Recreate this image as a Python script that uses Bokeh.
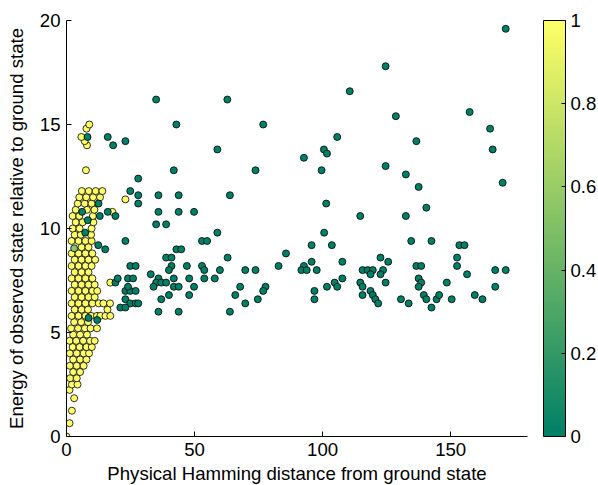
from bokeh.plotting import figure
from bokeh.models import ColumnDataSource, LinearColorMapper, ColorBar, FixedTicker
from bokeh.embed import file_html
from bokeh.resources import INLINE

FONT = "Liberation Sans"

# ---- data ----
x_ticks = [0, 50, 100, 150]
y_ticks = [0, 5, 10, 15, 20]
cb_ticks = [0, 0.2, 0.4, 0.6, 0.8, 1]

# yellow (colour value 1) points: rows of (energy, [distances])
yellow_rows = [
    (0.0, [0.0]), (0.64, [1.2]), (1.24, [2.1]), (1.84, [3.0]), (2.24, [1.2]),
    (2.5, [2.1, 4.3]),
    (2.8, [1.4, 4.0]),
    (3.1, [2.6, 5.3]),
    (3.4, [1.3, 4.0, 6.7]),
    (3.7, [2.6, 5.3, 7.8]),
    (4.0, [1.3, 4.0, 6.7, 8.8]),
    (4.3, [2.4, 5.1, 7.8, 9.9]),
    (4.6, [1.2, 3.8, 6.5, 9.2, 11.0]),
    (4.9, [2.6, 5.3, 8.0]),
    (5.2, [1.8, 4.5, 7.2, 9.4, 11.9]),
    (5.5, [3.0, 5.7, 8.4]),
    (5.8, [2.0, 4.7, 7.4, 9.6, 11.9, 13.2, 15.2, 17.1]),
    (6.1, [3.2, 5.9, 8.4, 16.0]),
    (6.4, [2.0, 4.7, 7.4, 10.1, 12.6, 14.4, 17.0]),
    (6.7, [3.2, 5.9, 8.6, 11.0]),
    (7.0, [2.0, 4.7, 7.4, 10.1, 12.0]),
    (7.3, [3.2, 5.9, 8.6, 11.0]),
    (7.4, [17.1]),
    (7.6, [2.0, 4.7, 7.4, 10.1]),
    (7.9, [3.2, 5.9, 8.6]),
    (8.2, [2.0, 4.7, 7.4, 9.8]),
    (8.5, [3.2, 5.9, 8.6, 11.2]),
    (8.8, [2.0, 4.7, 7.4, 10.1]),
    (9.1, [5.9, 8.6]),
    (9.4, [2.0, 4.7, 7.4, 9.8]),
    (9.7, [3.2, 5.6, 9.6]),
    (10.0, [2.4, 5.1, 9.8]),
    (10.3, [3.6, 6.3, 10.5]),
    (10.6, [2.4, 5.0, 10.3]),
    (10.8, [17.9]),
    (10.9, [3.6, 8.0, 10.9]),
    (11.2, [4.4, 7.1, 9.8]),
    (11.4, [23.0]),
    (11.5, [5.0, 7.7, 10.4, 13.1]),
    (11.8, [6.0, 8.7, 11.4, 14.0]),
    (12.8, [7.6]),
    (14.0, [8.0]), (14.2, [7.1]), (14.4, [5.8]), (14.8, [7.8]), (15.0, [8.9]),
]

# intermediate-colour point
mid_x = [3.0]
mid_y = [9.05]
mid_c = [0.55]

# green (colour value 0) points
green_x = [
    35.0, 62.8, 42.9, 76.8, 23.0, 18.2, 16.1, 8.2, 58.9, 92.7, 100.5, 101.7,
    41.9, 73.8, 99.6, 28.0, 24.9, 28.0, 28.0, 35.9, 43.8, 63.8, 19.1, 16.1,
    13.0, 12.5, 6.1, 8.3, 7.3, 35.9, 43.8, 49.8, 35.0, 38.9, 101.4, 23.0,
    12.4, 15.1, 58.9, 100.6, 42.9, 44.8, 52.9, 54.9, 95.7, 38.9, 41.0, 62.9,
    85.7, 24.9, 27.0, 41.0, 47.0, 52.9, 53.8, 40.0, 59.9, 69.8, 73.8, 82.8,
    92.7, 95.7, 91.7, 93.8, 97.7, 32.9, 19.1, 20.0, 24.0, 26.0, 35.9, 35.0,
    37.0, 38.9, 34.0, 41.9, 47.9, 53.8, 57.9, 41.9, 43.8, 49.8, 40.0, 47.9,
    67.8, 65.9, 77.7, 76.8, 74.7, 69.8, 96.8, 96.8, 101.7, 23.0, 24.9, 27.0,
    24.0, 23.0, 24.9, 27.0, 28.0, 21.0, 23.0, 35.9, 43.8, 63.8, 37.0, 8.6,
    12.0,
    171.5, 124.6, 110.6, 128.6, 157.4, 165.4, 105.7, 136.6, 166.4, 124.6,
    132.5, 137.5, 170.3, 114.7, 132.5, 140.5, 103.6, 134.6, 142.5, 153.4,
    155.4, 107.7, 122.6, 125.6, 152.5, 152.5, 115.6, 117.6, 119.6, 123.6,
    118.7, 122.6, 136.6, 138.5, 167.4, 171.5, 156.4, 137.5, 138.5, 107.7,
    104.7, 105.7, 114.7, 115.6, 115.6, 124.6, 137.5, 148.5, 167.4, 118.7,
    119.6, 120.6, 121.7, 130.6, 133.6, 139.5, 140.5, 142.5, 144.5, 145.5,
    150.4, 159.4, 162.4,
]
green_y = [
    16.2, 16.2, 15.0, 15.0, 14.2, 14.0, 14.4, 14.4, 13.8, 13.4, 13.8, 13.6,
    12.8, 12.8, 12.8, 12.4, 11.8, 11.6, 11.2, 11.6, 11.6, 11.6, 10.6, 10.8,
    10.6, 11.2, 10.8, 10.4, 9.8, 10.8, 10.8, 10.8, 10.2, 10.2, 11.2, 9.4,
    9.2, 9.0, 9.8, 9.8, 9.0, 9.0, 9.4, 9.4, 9.2, 8.6, 8.6, 8.6,
    8.8, 8.2, 8.2, 8.2, 8.2, 8.2, 8.0, 8.0, 8.0, 8.0, 8.0, 8.2,
    8.2, 8.4, 8.0, 8.0, 8.0, 7.8, 7.4, 7.6, 7.6, 7.6, 7.6, 7.4,
    7.4, 7.4, 7.2, 7.6, 7.6, 7.6, 7.6, 7.2, 7.2, 7.2, 6.8, 6.8,
    7.2, 6.8, 7.2, 7.0, 6.6, 6.4, 7.0, 6.6, 7.2, 7.0, 7.0, 7.0,
    7.2, 6.6, 6.4, 6.4, 6.4, 6.2, 6.2, 6.0, 6.0, 6.0, 6.6, 5.7,
    5.6,
    19.6, 17.8, 16.6, 15.4, 15.6, 14.8, 14.4, 14.2, 13.8, 13.0,
    12.6, 12.0, 12.2, 10.6, 10.6, 11.0, 9.2, 9.4, 9.4, 9.2,
    9.2, 8.4, 8.6, 8.4, 8.6, 8.2, 8.0, 8.0, 8.0, 8.0,
    7.8, 7.8, 8.2, 8.2, 8.0, 8.0, 7.8, 7.6, 7.4, 7.6,
    7.4, 7.2, 7.4, 7.2, 6.8, 7.4, 7.2, 7.4, 7.2, 7.0,
    6.8, 6.6, 6.4, 6.6, 6.4, 6.8, 6.6, 6.2, 6.6, 6.8,
    6.6, 6.8, 6.6,
]

# ---- build sources ----
yellow_x, yellow_y = [], []
for yv, xs in yellow_rows:
    for xv in xs:
        yellow_x.append(xv)
        yellow_y.append(yv)

all_x = yellow_x + mid_x + green_x
all_y = yellow_y + mid_y + green_y
all_c = [1.0] * len(yellow_x) + mid_c + [0.0] * len(green_x)
src = ColumnDataSource(dict(x=all_x, y=all_y, c=all_c))

# MATLAB "summer" colormap
summer = []
for i in range(256):
    t = i / 255
    summer.append("#%02x%02x%02x" % (round(255 * t), round(255 * (0.5 + 0.5 * t)), round(255 * 0.4)))
mapper = LinearColorMapper(palette=summer, low=0, high=1)

p = figure(frame_width=461, frame_height=416, x_range=(0, 180), y_range=(0, 20),
           output_backend="svg", toolbar_location=None,
           min_border_left=66, min_border_top=20, min_border_bottom=48, min_border_right=71)
p.outline_line_color = None
p.grid.visible = False
p.background_fill_color = "white"
p.border_fill_color = "white"

p.scatter("x", "y", source=src, size=7, line_color="black", line_width=0.8,
          fill_color={"field": "c", "transform": mapper})

for ax, ticks in ((p.xaxis, x_ticks), (p.yaxis, y_ticks)):
    ax.ticker = FixedTicker(ticks=ticks)
    ax.major_tick_in = 5
    ax.major_tick_out = 0
    ax.minor_tick_line_color = None
    ax.axis_line_color = "black"
    ax.major_tick_line_color = "black"
    ax.major_label_text_font = FONT
    ax.major_label_text_font_size = "18.6px"
    ax.major_label_text_color = "black"
    ax.axis_label_text_font = FONT
    ax.axis_label_text_font_size = "18.6px"
    ax.axis_label_text_font_style = "normal"
    ax.axis_label_text_color = "black"

p.xaxis.axis_label = "Physical Hamming distance from ground state"
p.yaxis.axis_label = "Energy of observed state relative to ground state"
p.xaxis.major_label_standoff = 6
p.xaxis.axis_label_standoff = 4
p.yaxis.major_label_standoff = 6
p.yaxis.axis_label_standoff = 10

cb = ColorBar(color_mapper=mapper, ticker=FixedTicker(ticks=cb_ticks),
              width=22, height=416, margin=0, padding=0,
              location=(16, 0),
              bar_line_color="black", bar_line_width=1,
              border_line_color=None, background_fill_alpha=0,
              major_tick_in=4, major_tick_out=0, major_tick_line_color="black",
              label_standoff=5,
              major_label_text_font=FONT, major_label_text_font_size="18.6px",
              major_label_text_color="black",
              major_label_overrides={0: "0", 1: "1"})
p.add_layout(cb, "right")

open("out.html", "w").write(file_html(p, INLINE))
